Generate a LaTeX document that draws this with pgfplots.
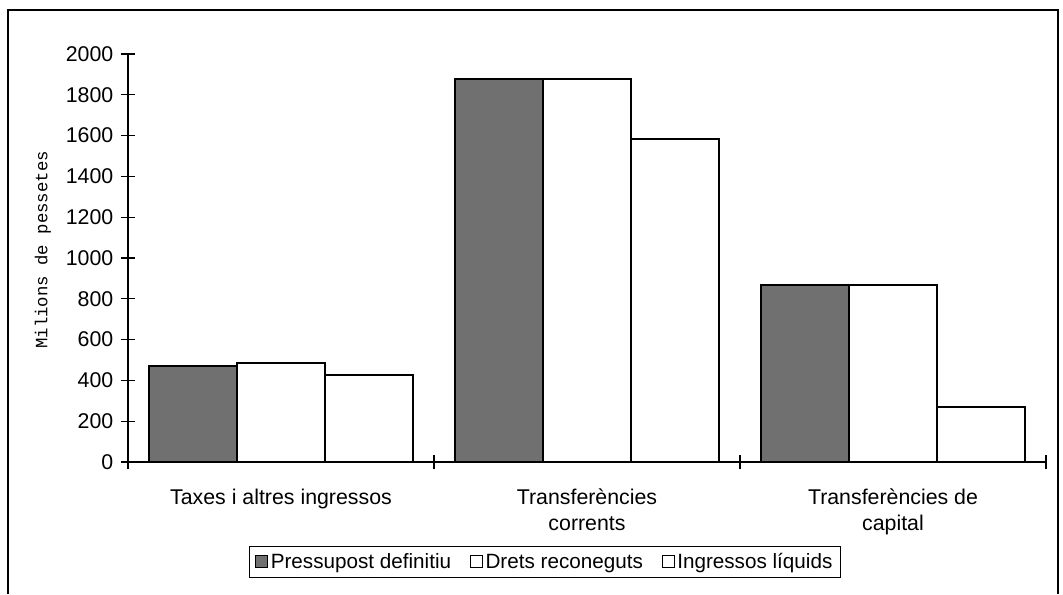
\documentclass[border=0pt]{standalone}
\usepackage{pgfplots}
\pgfplotsset{compat=1.18}
\usepackage{fontspec}
\setmainfont{Liberation Sans}
\newfontfamily\monofont{Liberation Mono}
\definecolor{barone}{HTML}{707070}
\begin{document}
\begin{tikzpicture}
\begin{axis}[
  at={(0pt,0pt)}, anchor=south west,
  scale only axis, width=688.5pt, height=306pt,
  xmin=-0.5, xmax=2.5, ymin=0, ymax=2000,
  axis x line*=bottom, axis y line*=left,
  axis line style={-, line width=1.1pt},
  ytick={0,200,...,2000},
  xtick={-0.5,0.5,1.5,2.5},
  xticklabels={},
  extra x ticks={0,1,2},
  extra x tick labels={Taxes i altres ingressos, Transferències\\corrents, Transferències de\\capital},
  extra x tick style={major tick length=0pt, xticklabel style={align=center, yshift=-16.5pt}},
  major tick length=11pt,
  xtick style={black, line width=1.3pt},
  ytick style={black, line width=1pt},
  /pgf/number format/assume math mode=true,
  /pgf/number format/1000 sep={},
  tick label style={font=\fontsize{16}{19.5}\selectfont},
  yticklabel style={xshift=-2pt},
  ylabel={Milions de pessetes},
  every axis y label/.style={at={(axis description cs:-0.0926,0.52)}, rotate=90, anchor=center, font=\monofont\fontsize{13}{15}\selectfont},
  ybar=0pt, bar width=0.288,
  legend columns=3,
  legend style={at={(axis description cs:0.4543,-0.245)}, anchor=center, draw=black, line width=1pt,
    font=\fontsize{15.5}{18}\selectfont, inner xsep=4pt, inner ysep=3pt,
    /tikz/every even column/.append style={column sep=12pt}},
  legend image code/.code={\draw[#1, line width=0.8pt] (0pt,-4.5pt) rectangle (9pt,4.5pt);},
  xtick pos=bottom, ytick pos=left,
  tick align=center,
]
\addplot[draw=black, line width=1.2pt, fill=barone] coordinates {(0,472) (1,1878) (2,868)};
\addplot[draw=black, line width=1.2pt, fill=white] coordinates {(0,485) (1,1878) (2,868)};
\addplot[draw=black, line width=1.2pt, fill=white] coordinates {(0,427) (1,1583) (2,271)};
\legend{Pressupost definitiu, Drets reconeguts, Ingressos líquids}
\end{axis}
\draw[line width=1.1pt] (-90pt,-99pt) -- (-90pt,339pt) -- (697.5pt,339pt) -- (697.5pt,-99pt);
\pgfresetboundingbox
\useasboundingbox (-96pt,-99pt) rectangle (701.25pt,346.5pt);
\end{tikzpicture}
\end{document}
